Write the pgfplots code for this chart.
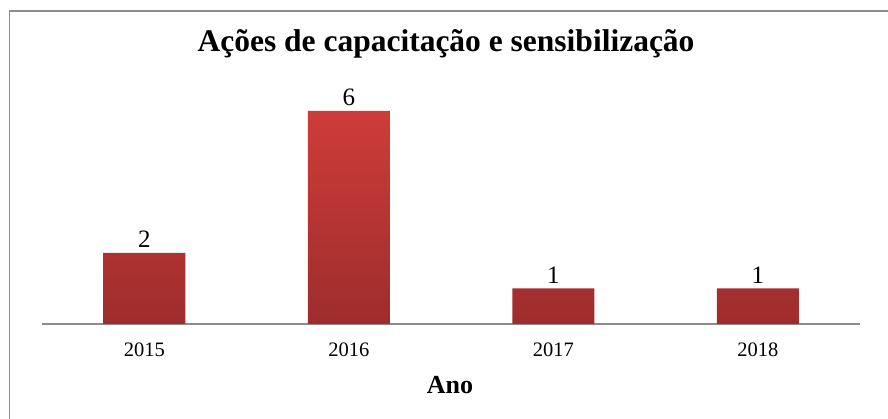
\documentclass[border=0pt]{standalone}
\usepackage{pgfplots}
\pgfplotsset{compat=1.18}
\usepackage{fontspec}
\setmainfont{Liberation Serif}
\definecolor{barTop}{HTML}{CE3C39}
\definecolor{barMid}{HTML}{B93634}
\definecolor{barBot}{HTML}{9D2D2C}
\definecolor{lineGray}{HTML}{8C8C8C}
\begin{document}
\begin{tikzpicture}[x=1pt,y=1pt]
\useasboundingbox (0,0) rectangle (888,419);
\begin{scope}
\clip (0,0) rectangle (888,419);
\draw[lineGray, line width=1.6pt] (9.5,-5) -- (9.5,408) -- (895,408);
\end{scope}
\begin{axis}[
  at={(42pt,95pt)}, anchor=south west,
  scale only axis,
  width=818pt, height=248.5pt,
  xmin=-0.5, xmax=3.5, ymin=0, ymax=7,
  axis y line=none,
  axis x line*=bottom,
  x axis line style={lineGray, line width=1.5pt},
  xtick=data,
  xticklabels={2015,2016,2017,2018},
  major tick length=0pt,
  xticklabel style={anchor=base, yshift=-32.5pt, font=\fontsize{20.5}{22}\selectfont},
  /pgf/number format/assume math mode=true,
  nodes near coords,
  nodes near coords style={anchor=base, yshift=5pt, inner sep=0pt, font=\fontsize{25}{27}\selectfont, black},
  clip=false,
]
\addplot[ybar, bar width=82pt, draw=none, top color=barTop, middle color=barMid, bottom color=barBot]
  coordinates {(0,2) (1,6) (2,1) (3,1)};
\end{axis}
\node[anchor=base, font=\bfseries\fontsize{31.5}{34}\selectfont] at (446,367) {Ações de capacitação e sensibilização};
\node[anchor=base, font=\bfseries\fontsize{26}{28}\selectfont] at (450,25) {Ano};
\end{tikzpicture}
\end{document}
